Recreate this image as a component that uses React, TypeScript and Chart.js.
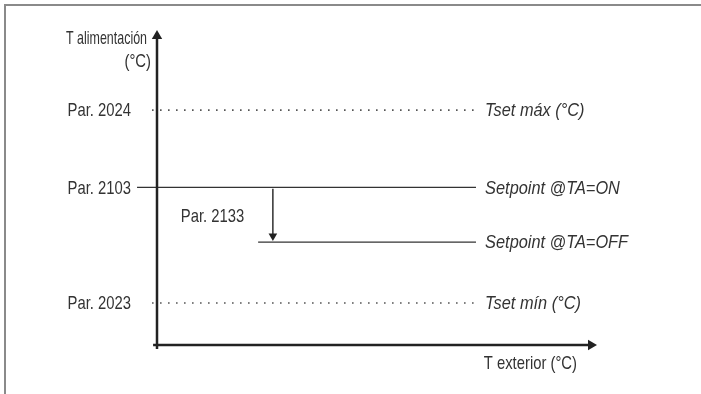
import React, { useEffect, useRef } from "react";
import { Chart, registerables } from "chart.js";

Chart.register(...registerables);

// Horizontal levels (y in schematic units, x-axis = 0, y-axis arrow = 100)
const LEVEL_LABELS = ["Par. 2024", "Par. 2103", "Par. 2023"];
const LEVEL_VALUES = [76, 51, 13.6];

const CURVE_LABELS = ["Tset máx (°C)", "Setpoint @TA=ON", "Setpoint @TA=OFF", "Tset mín (°C)"];
const CURVE_VALUES = [76, 51, 33.3, 13.6];
const CURVE_START = [-1.15, -4.6, 23.3, -1.15];
const CURVE_END = [73.7, 73.5, 73.5, 73.7];
const CURVE_DOTTED = [true, false, false, true];

const DROP_LABEL = "Par. 2133";
const DROP_X = 26.7;
const DROP_FROM = 50.6;
const DROP_TO = 35.3;

const X_TITLE = "T exterior (°C)";
const Y_TITLE = ["T alimentación", "(°C)"];

const FONT = "'Liberation Sans', Arial, sans-serif";
const TEXT = "#333333";
const AXIS = "#222222";

function drawText(
  ctx: CanvasRenderingContext2D,
  text: string,
  x: number,
  y: number,
  align: CanvasTextAlign,
  italic: boolean,
  maxW?: number
) {
  const squeeze = italic ? 0.86 : 0.78;
  ctx.save();
  ctx.translate(x, y);
  ctx.scale(squeeze, 1);
  ctx.font = `${italic ? "italic " : ""}19px ${FONT}`;
  ctx.textAlign = align;
  ctx.textBaseline = "middle";
  ctx.fillStyle = TEXT;
  if (maxW) ctx.fillText(text, 0, 0, maxW / squeeze);
  else ctx.fillText(text, 0, 0);
  ctx.restore();
}

const textPlugin = {
  id: "schematicText",
  afterDatasetsDraw(chart: any) {
    const ctx = chart.ctx as CanvasRenderingContext2D;
    const xs = chart.scales.x;
    const ys = chart.scales.y;
    LEVEL_LABELS.forEach((l, i) => {
      drawText(ctx, l, xs.getPixelForValue(-6), ys.getPixelForValue(LEVEL_VALUES[i]) + 1, "right", false);
    });
    drawText(ctx, Y_TITLE[0], xs.left - 10, ys.top + 3, "right", false, 81);
    drawText(ctx, Y_TITLE[1], xs.left - 6, ys.top + 26, "right", false);
    drawText(
      ctx,
      DROP_LABEL,
      xs.getPixelForValue(5.5),
      ys.getPixelForValue((DROP_FROM + DROP_TO) / 2 - 1.5),
      "left",
      false
    );
    drawText(ctx, X_TITLE, xs.getPixelForValue(75.3), ys.bottom + 19, "left", false);
    CURVE_LABELS.forEach((l, i) => {
      drawText(ctx, l, xs.getPixelForValue(75.6), ys.getPixelForValue(CURVE_VALUES[i]) + 1, "left", true);
    });
  },
};

export default function App() {
  const ref = useRef<HTMLCanvasElement | null>(null);

  useEffect(() => {
    if (!ref.current) return;
    const curveSets = CURVE_LABELS.map((l, i) => ({
      label: l,
      data: [
        { x: CURVE_START[i], y: CURVE_VALUES[i] },
        { x: CURVE_END[i], y: CURVE_VALUES[i] },
      ],
      showLine: true,
      borderColor: CURVE_DOTTED[i] ? "#555555" : "#333333",
      borderWidth: CURVE_DOTTED[i] ? 1.6 : 1.2,
      borderDash: CURVE_DOTTED[i] ? [1.6, 6.4] : [],
      pointRadius: 0,
      clip: false,
      order: 5,
    }));
    const chart = new Chart(ref.current, {
      type: "scatter",
      data: {
        datasets: [
          {
            label: "yAxis",
            data: [
              { x: 0, y: -1.3 },
              { x: 0, y: 100 },
            ],
            showLine: true,
            borderColor: AXIS,
            borderWidth: 2.5,
            pointRadius: [0, 6],
            pointStyle: "triangle",
            pointRotation: 0,
            pointBackgroundColor: AXIS,
            pointBorderColor: AXIS,
            pointBorderWidth: 0,
            clip: false,
            order: 1,
          },
          {
            label: "xAxis",
            data: [
              { x: -0.9, y: 0 },
              { x: 100, y: 0 },
            ],
            showLine: true,
            borderColor: AXIS,
            borderWidth: 2.5,
            pointRadius: [0, 6],
            pointStyle: "triangle",
            pointRotation: 90,
            pointBackgroundColor: AXIS,
            pointBorderColor: AXIS,
            pointBorderWidth: 0,
            clip: false,
            order: 1,
          },
          {
            label: "drop",
            data: [
              { x: DROP_X, y: DROP_FROM },
              { x: DROP_X, y: DROP_TO },
            ],
            showLine: true,
            borderColor: AXIS,
            borderWidth: 1.4,
            pointRadius: [0, 5],
            pointStyle: "triangle",
            pointRotation: 180,
            pointBackgroundColor: AXIS,
            pointBorderColor: AXIS,
            pointBorderWidth: 0,
            clip: false,
            order: 2,
          },
          ...curveSets,
        ],
      },
      options: {
        animation: false,
        responsive: false,
        events: [],
        layout: { padding: { left: 157, right: 110, top: 36, bottom: 49 } },
        plugins: { legend: { display: false }, tooltip: { enabled: false } },
        scales: {
          x: { type: "linear", min: 0, max: 100, display: false },
          y: { type: "linear", min: 0, max: 100, display: false },
        },
      } as any,
      plugins: [textPlugin],
    });
    return () => chart.destroy();
  }, []);

  return (
    <div style={{ position: "fixed", left: 0, top: 0, width: 701, height: 394, overflow: "hidden", background: "#fff" }}>
      <div
        style={{
          position: "absolute",
          left: 4,
          top: 4,
          width: 800,
          height: 500,
          borderTop: "2px solid #8a8a8a",
          borderLeft: "2px solid #8a8a8a",
        }}
      />
      <canvas ref={ref} width={701} height={394} style={{ position: "absolute", left: 0, top: 0 }} />
    </div>
  );
}
